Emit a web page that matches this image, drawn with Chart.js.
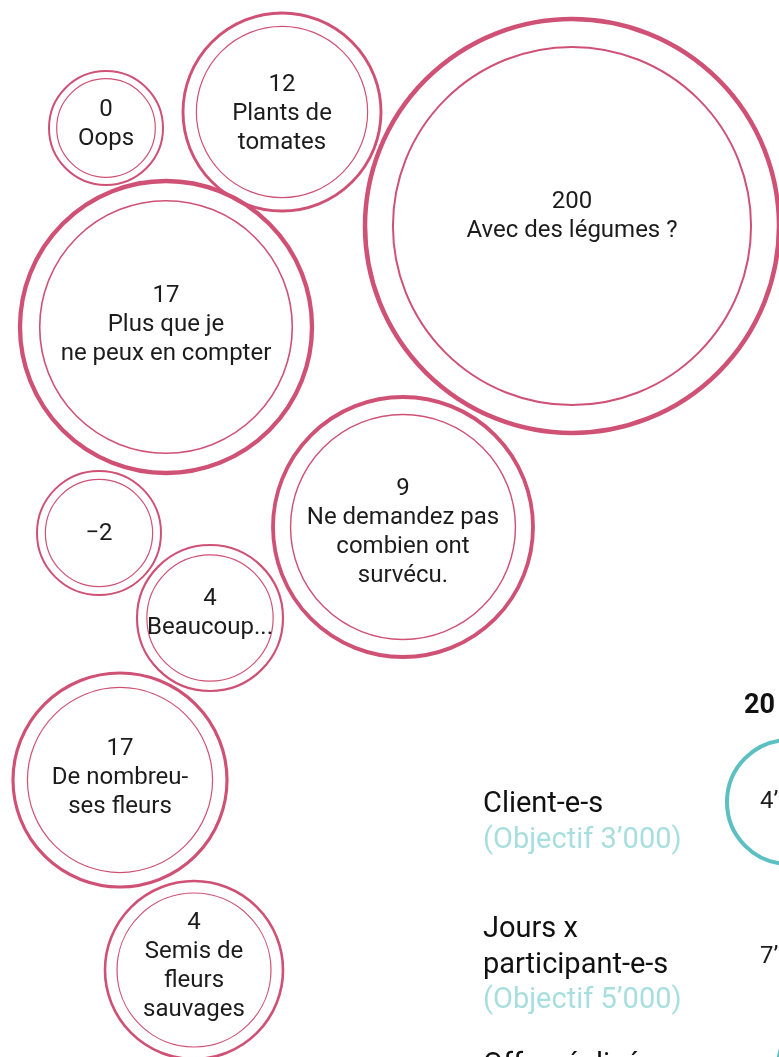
<!DOCTYPE html>
<html>
<head>
<meta charset="utf-8">
<script src="https://cdn.jsdelivr.net/npm/chart.js@4/dist/chart.umd.min.js"></script>
<style>
    html, body { margin: 0; padding: 0; background: #fff; overflow: hidden; }
    #wrap { position: relative; width: 779px; height: 1057px; }
</style>
</head>
<body>
<div id="wrap"><canvas id="bubbles"></canvas></div>
<script>
// values and captions of the garden bubbles
const bubbleValues = [0, 12, 200, 17, -2, 4, 9, 17, 4];
const bubbleLabels = [
    'Oops',
    'Plants de\ntomates',
    'Avec des légumes ?',
    'Plus que je\nne peux en compter',
    '',
    'Beaucoup...',
    'Ne demandez pas\ncombien ont\nsurvécu.',
    'De nombreu-\nses fleurs',
    'Semis de\nfleurs\nsauvages'
];

// packed layout (centre x, centre y, outer radius)
const bubbleX = [106, 282, 572, 166, 99, 210, 403, 120, 194];
const bubbleY = [128, 112, 226, 327, 533, 618, 527, 780, 970];
const bubbleR = [57, 99, 207, 146, 62, 73, 130, 107, 89];
// small vertical nudge of each caption block
const textDy = [-4, 2, -10, -2, 1, -5, 5, -2.5, -3.5];

// right hand column
const rowLabels = ['Client-e-s', 'Jours x\nparticipant-e-s', 'Offre réalisée'];
const rowGoals = ['(Objectif 3’000)', '(Objectif 5’000)', ''];
const rowValues = ['4’', '7’', ''];
const yearLabel = '20';

const PINK = '#cf5276';
const TEAL = '#5cbfc1';
const TEAL_LIGHT = '#a8dede';
const INK = '#1c1c1c';

function fmt(v) {
    return v < 0 ? '\u2212' + Math.abs(v) : String(v);
}

const outerPoints = bubbleValues.map((v, i) => ({ x: bubbleX[i], y: bubbleY[i], r: bubbleR[i] }));
const innerPoints = bubbleValues.map((v, i) => ({ x: bubbleX[i], y: bubbleY[i], r: bubbleR[i] * 0.865 }));

const outerWidth = (ctx) => {
    const r = bubbleR[ctx.dataIndex];
    return Math.max(2, Math.min(4.5, r / 34));
};
const innerWidth = (ctx) => {
    const r = bubbleR[ctx.dataIndex];
    return Math.max(1.2, Math.min(2, r / 90));
};

const labelsPlugin = {
    id: 'bubbleText',
    afterDatasetsDraw(chart) {
        const ctx = chart.ctx;
        const meta = chart.getDatasetMeta(0);
        ctx.save();
        ctx.fillStyle = INK;
        ctx.textAlign = 'center';
        ctx.textBaseline = 'middle';
        ctx.font = '24px Roboto';
        const lh = 29;
        meta.data.forEach((el, i) => {
            const lines = [fmt(bubbleValues[i])].concat(bubbleLabels[i] ? bubbleLabels[i].split('\n') : []);
            const top = el.y + textDy[i] - (lines.length - 1) * lh / 2;
            lines.forEach((t, k) => ctx.fillText(t, el.x, top + k * lh));
        });

        // right column
        ctx.textAlign = 'left';
        ctx.textBaseline = 'alphabetic';
        ctx.font = 'bold 27px Roboto';
        ctx.fillStyle = '#111';
        ctx.fillText(yearLabel, 744, 713);

        const rowTop = [812, 937, 1073];
        ctx.font = '29px Roboto';
        rowLabels.forEach((lbl, i) => {
            const lines = lbl.split('\n');
            let y = rowTop[i];
            ctx.fillStyle = '#111';
            lines.forEach((t) => { ctx.fillText(t, 483, y); y += 35.5; });
            if (rowGoals[i]) {
                ctx.fillStyle = TEAL_LIGHT;
                ctx.fillText(rowGoals[i], 483, y);
            }
        });

        ctx.font = '24px Roboto';
        ctx.fillStyle = INK;
        ctx.textBaseline = 'middle';
        const valY = [802, 957];
        rowValues.forEach((v, i) => {
            if (v) ctx.fillText(v, 760, valY[i]);
        });
        ctx.restore();
    }
};

new Chart(document.getElementById('bubbles'), {
    type: 'bubble',
    data: {
        datasets: [
            {
                label: 'outer',
                data: outerPoints,
                borderColor: PINK,
                backgroundColor: 'rgba(0,0,0,0)',
                borderWidth: outerWidth,
                clip: false
            },
            {
                label: 'inner',
                data: innerPoints,
                borderColor: PINK,
                backgroundColor: 'rgba(0,0,0,0)',
                borderWidth: innerWidth,
                clip: false
            },
            {
                label: 'clients',
                data: [{ x: 789, y: 802, r: 62 }],
                borderColor: TEAL,
                backgroundColor: 'rgba(0,0,0,0)',
                borderWidth: 4,
                clip: false
            },
            {
                label: 'offre',
                data: [{ x: 840, y: 1068, r: 62 }],
                borderColor: TEAL,
                backgroundColor: 'rgba(0,0,0,0)',
                borderWidth: 4,
                clip: false
            }
        ]
    },
    options: {
        responsive: true,
        maintainAspectRatio: false,
        animation: false,
        events: [],
        layout: { padding: 0, autoPadding: false },
        plugins: {
            legend: { display: false },
            tooltip: { enabled: false }
        },
        scales: {
            x: { type: 'linear', min: 0, max: 779, display: false },
            y: { type: 'linear', min: 0, max: 1057, reverse: true, display: false }
        }
    },
    plugins: [labelsPlugin]
});
</script>
</body>
</html>
